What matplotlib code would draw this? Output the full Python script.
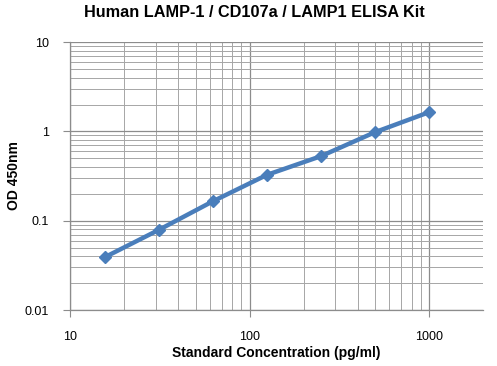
import matplotlib

matplotlib.use("Agg")

import matplotlib.pyplot as plt
from matplotlib.ticker import LogLocator, NullFormatter, FixedLocator, FixedFormatter

# standard curve
concentration = [15.6, 31.25, 62.5, 125, 250, 500, 1000]
od_450 = [0.039, 0.079, 0.165, 0.326, 0.528, 0.98, 1.64]

x_ticks = [10, 100, 1000]
x_tick_labels = ["10", "100", "1000"]
y_ticks = [0.01, 0.1, 1, 10]
y_tick_labels = ["0.01", "0.1", "1", "10"]

plt.rcParams["font.family"] = ["Liberation Sans", "DejaVu Sans"]

fig = plt.figure(figsize=(4.97, 3.66), dpi=100)
ax = fig.add_axes([0.141, 0.153, 0.831, 0.732])

ax.plot(concentration, od_450, color="#4A7EBB", linewidth=3.2,
        marker="D", markersize=6.5, markerfacecolor="#4A7EBB",
        markeredgecolor="#4A7EBB", solid_capstyle="round", zorder=3)

ax.set_xscale("log")
ax.set_yscale("log")
ax.set_xlim(10, 2000)
ax.set_ylim(0.01, 10)

ax.xaxis.set_major_locator(FixedLocator(x_ticks))
ax.xaxis.set_major_formatter(FixedFormatter(x_tick_labels))
ax.yaxis.set_major_locator(FixedLocator(y_ticks))
ax.yaxis.set_major_formatter(FixedFormatter(y_tick_labels))
ax.xaxis.set_minor_locator(LogLocator(base=10, subs=range(2, 10)))
ax.yaxis.set_minor_locator(LogLocator(base=10, subs=range(2, 10)))
ax.xaxis.set_minor_formatter(NullFormatter())
ax.yaxis.set_minor_formatter(NullFormatter())

ax.grid(which="major", color="#8c8c8c", linewidth=0.9)
ax.grid(which="minor", color="#a6a6a6", linewidth=0.7)
ax.set_axisbelow(True)

for side in ["top", "right"]:
    ax.spines[side].set_visible(False)
for side in ["left", "bottom"]:
    ax.spines[side].set_color("#8c8c8c")
    ax.spines[side].set_linewidth(0.9)

ax.tick_params(which="major", direction="out", length=5, color="#8c8c8c",
               labelsize=9, pad=10)
ax.tick_params(which="minor", length=0)

fig.text(0.511, 0.967, "Human LAMP-1 / CD107a / LAMP1 ELISA Kit", fontsize=11.7,
         fontweight="bold", ha="center", va="center")
ax.set_xlabel("Standard Concentration (pg/ml)", fontsize=10, fontweight="bold",
              labelpad=2)
ax.set_ylabel("OD 450nm", fontsize=10, fontweight="bold", labelpad=3)

fig.savefig("out.png", dpi=100)
plt.close(fig)
